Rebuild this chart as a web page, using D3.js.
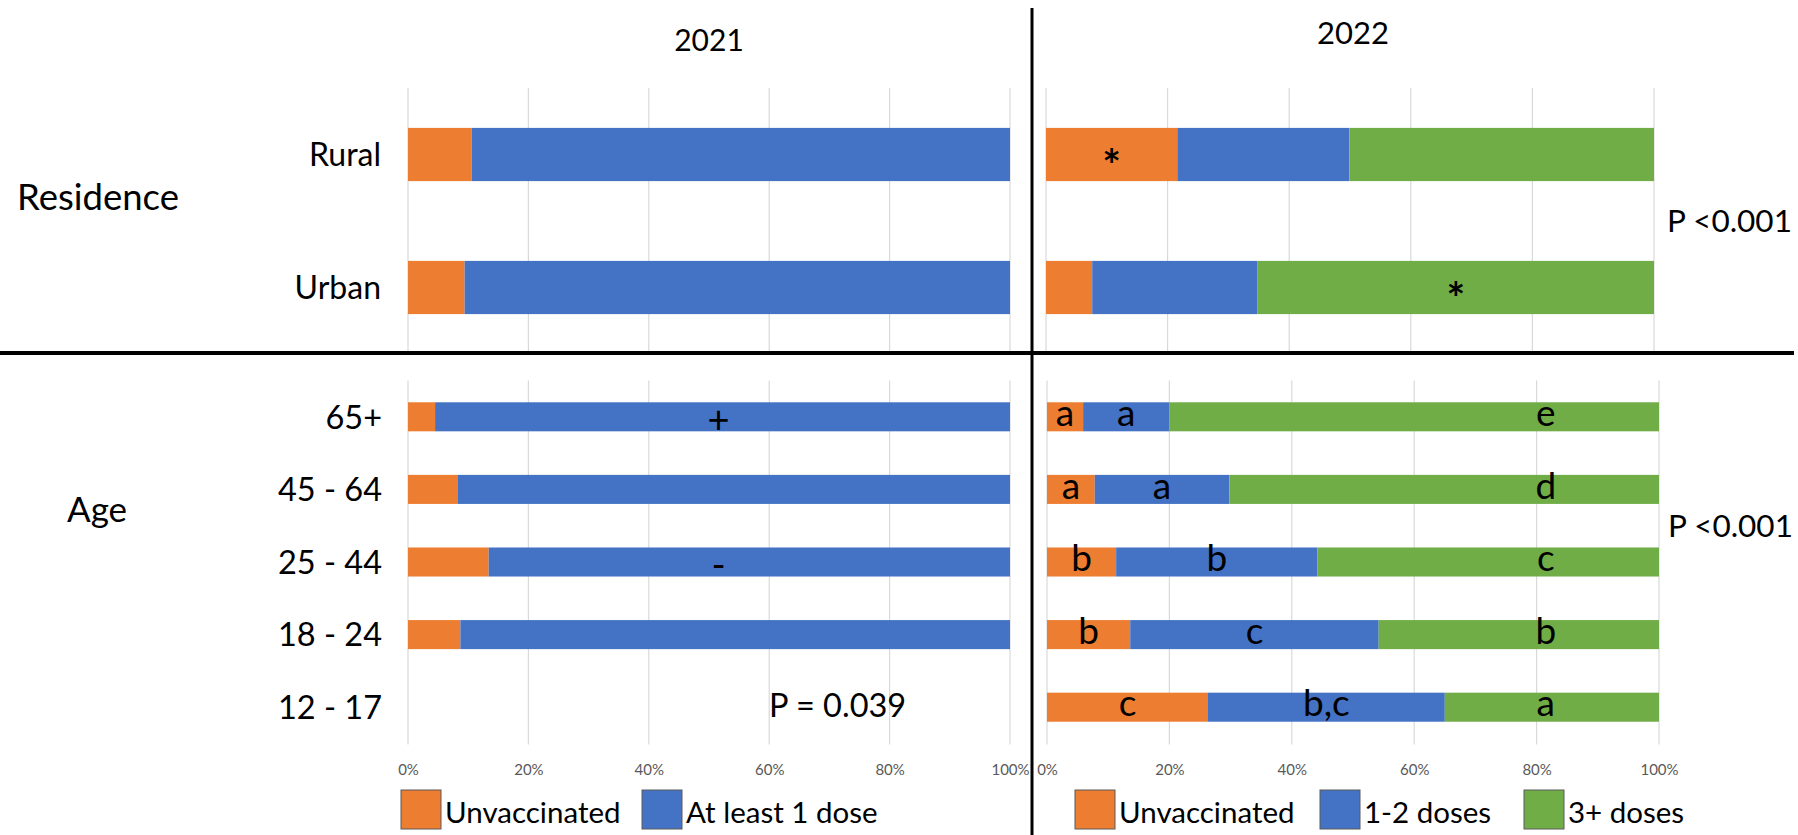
<!DOCTYPE html>
<html>
<head>
<meta charset="utf-8">
<script src="https://cdn.jsdelivr.net/npm/d3@7"></script>
<style>
  html, body { margin: 0; padding: 0; background: #fff; }
  svg { display: block; font-family: Lato, "Open Sans", sans-serif; }
</style>
</head>
<body>
<svg id="chart" width="1798" height="835"></svg>
<script>
// ---- data (percent of respondents) ----
const residenceCats = ["Rural", "Urban"];
const ageCats = ["65+", "45 - 64", "25 - 44", "18 - 24", "12 - 17"];
const tickValues = [0, 20, 40, 60, 80, 100];

const series2021 = ["Unvaccinated", "At least 1 dose"];
const series2022 = ["Unvaccinated", "1-2 doses", "3+ doses"];

// 2021
const unvax2021Res = [10.6, 9.4];
const dose1_2021Res = [89.4, 90.6];
const unvax2021Age = [4.5, 8.3, 13.4, 8.7, 0];
const dose1_2021Age = [95.5, 91.7, 86.6, 91.3, 0];

// 2022
const unvax2022Res = [21.6, 7.6];
const dose12_2022Res = [28.3, 27.2];
const dose3_2022Res = [50.1, 65.2];
const unvax2022Age = [5.9, 7.8, 11.3, 13.6, 26.3];
const dose12_2022Age = [14.1, 22.0, 32.9, 40.6, 38.7];
const dose3_2022Age = [80.0, 70.2, 55.8, 45.8, 35.0];

// significance marks per segment
const marks2021Age = [["", "", "", "", ""], ["+", "", "-", "", ""]];
const marks2022Res = [["*", ""], ["", ""], ["", "*"]];
const marks2022Age = [["a", "a", "b", "b", "c"], ["a", "a", "b", "c", "b,c"], ["e", "d", "c", "b", "a"]];

const pLabels = { res2022: "P <0.001", age2021: "P = 0.039", age2022: "P <0.001" };

// ---- styling ----
const COLORS = ["#ED7D31", "#4472C4", "#70AD47"];
const GRID = "#D9D9D9";

const svg = d3.select("#chart");

// column/section geometry
const col2021 = { top: [408, 1010], bottom: [408, 1010] };
const col2022 = { top: [1046, 1654], bottom: [1047, 1659] };
const resY = [88, 354];
const ageY = [380.5, 743.5];

function drawPanel(opts) {
  const x = d3.scaleLinear().domain([0, 100]).range(opts.xRange);
  const y = d3.scaleBand().domain(opts.cats).range(opts.yRange)
    .paddingInner(0.6).paddingOuter(0.3);
  const g = svg.append("g");

  // vertical gridlines
  g.selectAll("line.grid").data(tickValues).join("line")
    .attr("class", "grid")
    .attr("x1", d => x(d)).attr("x2", d => x(d))
    .attr("y1", opts.yRange[0]).attr("y2", opts.yRange[1] + 1)
    .attr("stroke", GRID).attr("stroke-width", 1.2);

  // stacked bars
  const rows = opts.cats.map((c, i) => {
    const r = { cat: c };
    opts.series.forEach((s, k) => { r[k] = s[i]; });
    return r;
  });
  const stack = d3.stack().keys(d3.range(opts.series.length));
  const layers = stack(rows);

  layers.forEach((layer, k) => {
    g.append("g").attr("fill", COLORS[k])
      .selectAll("rect").data(layer).join("rect")
      .attr("x", d => x(d[0]))
      .attr("y", d => y(d.data.cat))
      .attr("width", d => Math.max(0, x(d[1]) - x(d[0])))
      .attr("height", y.bandwidth());
  });

  // significance marks
  if (opts.marks) {
    layers.forEach((layer, k) => {
      g.append("g")
        .selectAll("text").data(layer).join("text")
        .text((d, i) => opts.marks[k][i])
        .attr("x", d => x(opts.markAt ? opts.markAt(k, d) : (d[0] + d[1]) / 2))
        .attr("y", d => y(d.data.cat) + y.bandwidth() / 2)
        .attr("dy", opts.markDy || "0.25em")
        .attr("text-anchor", "middle")
        .attr("font-size", opts.markSize || 37)
        .attr("font-weight", opts.markWeight || "normal")
        .attr("fill", "#000");
    });
  }

  // percentage axis under the age section
  if (opts.axis) {
    const ax = svg.append("g")
      .attr("transform", `translate(0,${opts.yRange[1] + 20})`)
      .call(d3.axisBottom(x).tickValues(tickValues).tickSize(0).tickFormat(d => d + "%"));
    ax.select(".domain").remove();
    ax.selectAll("text").attr("font-size", 15).attr("fill", "#595959")
      .attr("font-family", "Lato, sans-serif").attr("dy", "0.35em").attr("y", 6);
  }
  return { x, y };
}

// 2021 — residence
drawPanel({
  xRange: col2021.top, yRange: resY, cats: residenceCats,
  series: [unvax2021Res, dose1_2021Res]
});
// 2021 — age (marks sit near the middle of the axis)
drawPanel({
  xRange: col2021.bottom, yRange: ageY, cats: ageCats,
  series: [unvax2021Age, dose1_2021Age], marks: marks2021Age,
  markAt: () => 51.6, markDy: "0.42em", markSize: 38, axis: true
});
// 2022 — residence
drawPanel({
  xRange: col2022.top, yRange: resY, cats: residenceCats,
  series: [unvax2022Res, dose12_2022Res, dose3_2022Res], marks: marks2022Res,
  markDy: "0.6em", markSize: 44, markWeight: "bold"
});
// 2022 — age (letters on the 3+ segment line up at a common position)
drawPanel({
  xRange: col2022.bottom, yRange: ageY, cats: ageCats,
  series: [unvax2022Age, dose12_2022Age, dose3_2022Age], marks: marks2022Age,
  markAt: (k, d) => k === 2 ? 81.5 : (d[0] + d[1]) / 2, axis: true
});

// category labels
const yRes = d3.scaleBand().domain(residenceCats).range(resY).paddingInner(0.6).paddingOuter(0.3);
const yAge = d3.scaleBand().domain(ageCats).range(ageY).paddingInner(0.6).paddingOuter(0.3);
svg.append("g").selectAll("text").data(residenceCats).join("text")
  .text(d => d)
  .attr("x", 381).attr("y", d => yRes(d) + yRes.bandwidth() / 2)
  .attr("dy", "0.36em").attr("text-anchor", "end").attr("font-size", 32);
svg.append("g").selectAll("text").data(ageCats).join("text")
  .text(d => d)
  .attr("x", 382).attr("y", d => yAge(d) + yAge.bandwidth() / 2)
  .attr("dy", "0.36em").attr("text-anchor", "end").attr("font-size", 32.5);

// section titles
svg.append("text").text("Residence").attr("x", 17).attr("y", 210).attr("font-size", 36.5);
svg.append("text").text("Age").attr("x", 67).attr("y", 522).attr("font-size", 35);

// year headers
svg.append("text").text("2021").attr("x", d3.mean(col2021.top)).attr("y", 51)
  .attr("text-anchor", "middle").attr("font-size", 30);
svg.append("text").text("2022").attr("x", d3.mean(col2022.top) + 3).attr("y", 44)
  .attr("text-anchor", "middle").attr("font-size", 31);

// p-values
svg.append("text").text(pLabels.res2022).attr("x", 1667).attr("y", 232).attr("font-size", 31.5);
svg.append("text").text(pLabels.age2022).attr("x", 1668).attr("y", 537).attr("font-size", 31.5);
svg.append("text").text(pLabels.age2021).attr("x", 769).attr("y", 717).attr("font-size", 32.5);

// divider lines
svg.append("line").attr("x1", 1032).attr("x2", 1032).attr("y1", 8).attr("y2", 835)
  .attr("stroke", "#000").attr("stroke-width", 3);
svg.append("line").attr("x1", 0).attr("x2", 1794).attr("y1", 353).attr("y2", 353)
  .attr("stroke", "#000").attr("stroke-width", 4);

// legends
function legend(names, xs) {
  const g = svg.append("g");
  names.forEach((n, i) => {
    g.append("rect").attr("x", xs[i]).attr("y", 790).attr("width", 40).attr("height", 39)
      .attr("fill", COLORS[i]).attr("stroke", "#5a5a5a").attr("stroke-width", 1);
    g.append("text").text(n).attr("x", xs[i] + 44).attr("y", 823).attr("font-size", 29.5);
  });
}
legend(series2021, [401, 642]);
legend(series2022, [1075, 1320, 1524]);
</script>
</body>
</html>
